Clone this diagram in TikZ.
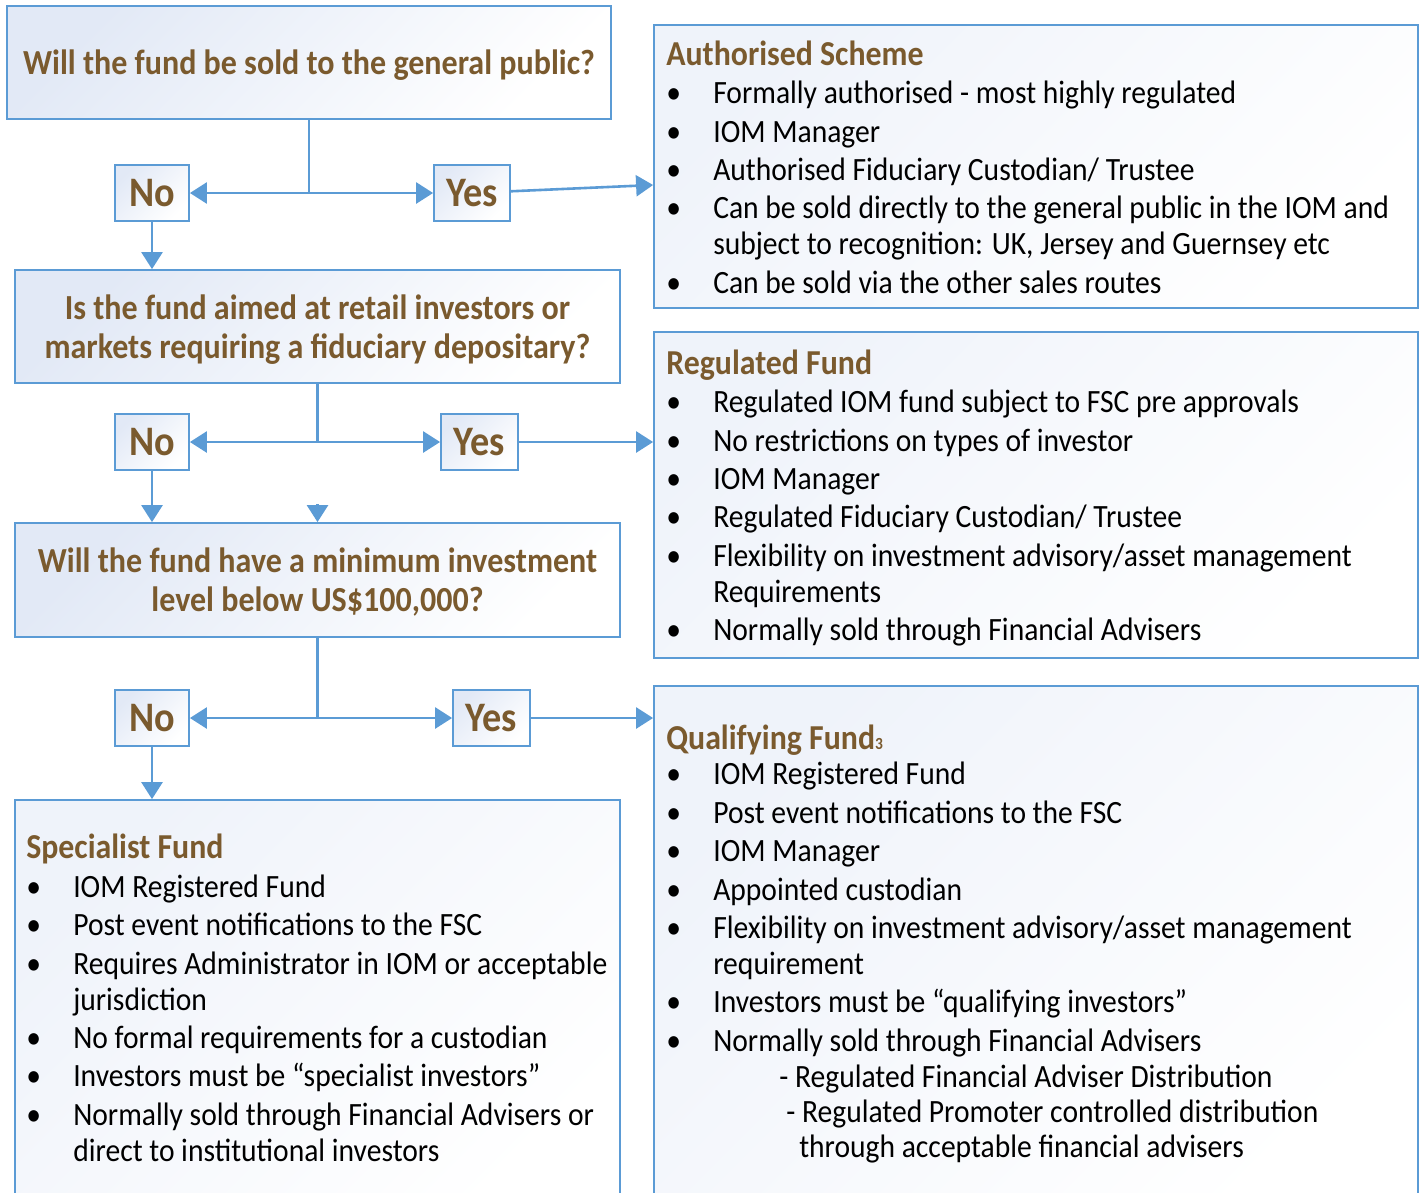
\documentclass[tikz,border=0pt]{standalone}
\usepackage{fontspec}
\setmainfont{Carlito}[FakeStretch=0.91]
\usetikzlibrary{calc,positioning,arrows.meta}
\definecolor{flowblue}{HTML}{5B9BD5}
\definecolor{titlebrown}{HTML}{7A5A2E}
\definecolor{boxtint}{HTML}{E2E9F6}
\newcommand{\itm}{\makebox[47pt][l]{\textbullet}}
\newcommand{\cont}{\hspace*{47pt}}
\newcommand{\headline}[1]{{\fontsize{35}{38}\selectfont\bfseries\color{titlebrown}#1}}
\tikzset{
  qbox/.style={draw=flowblue, line width=1.8pt, top color=boxtint, bottom color=white,
               shading angle=45, align=center, inner sep=0pt, text depth=0pt,
               font=\fontsize{35.2}{39}\selectfont\bfseries, text=titlebrown},
  ansbox/.style={qbox, minimum height=56pt, font=\fontsize{42}{45}\selectfont\bfseries},
  panel/.style={draw=flowblue, line width=1.8pt, top color=boxtint!55, bottom color=white,
                shading angle=45, inner sep=0pt},
  listtext/.style={anchor=north west, align=left, inner sep=0pt,
                   font=\fontsize{32.5}{38.4}\selectfont},
  flow/.style={draw=flowblue, line width=2.6pt},
  flowarrow/.style={flow, -{Triangle[length=17pt, width=21pt]}}
}
\begin{document}
\begin{tikzpicture}[x=1pt, y=-1pt]
  \useasboundingbox (0,0) rectangle (1424,1192);
  \node[qbox, minimum width=604pt, minimum height=113pt] (q1) at (309,62.5)
    {Will the fund be sold to the general public?};
  \node[qbox, minimum width=605pt, minimum height=113pt] (q2) at (317.5,326.5)
    {Is the fund aimed at retail investors or\\markets requiring a fiduciary depositary?};
  \node[qbox, minimum width=605pt, minimum height=114pt] (q3) at (317.5,580)
    {Will the fund have a minimum investment\\level below US\$100,000?};
  \node[ansbox, minimum width=74pt] (no1) at (152,193) {No};
  \node[ansbox, minimum width=76pt] (yes1) at (472,193) {Yes};
  \node[ansbox, minimum width=74pt] (no2) at (152,442) {No};
  \node[ansbox, minimum width=77pt] (yes2) at (479.5,442) {Yes};
  \node[ansbox, minimum width=74pt] (no3) at (152,718) {No};
  \node[ansbox, minimum width=77pt] (yes3) at (491.5,718) {Yes};

  \node[panel, minimum width=764pt, minimum height=283pt] (auth) at (1036,166.5) {};
  \node[panel, minimum width=764pt, minimum height=326pt] (reg) at (1036,495) {};
  \node[panel, minimum width=764pt, minimum height=530pt] (qual) at (1036,951) {};
  \node[panel, minimum width=605pt, minimum height=416pt] (spec) at (317.5,1008) {};

  \node[listtext] (authlist) at ([xshift=13pt, yshift=-16.5pt]auth.north west) {%
    \headline{Authorised Scheme}\\
    \itm Formally authorised - most highly regulated\\
    \itm IOM Manager\\
    \itm Authorised Fiduciary Custodian/ Trustee\\
    \itm Can be sold directly to the general public in the IOM and\\[-2.4pt]
    \cont subject to recognition: UK, Jersey and Guernsey etc\\
    \itm Can be sold via the other sales routes};
  \node[listtext] (reglist) at ([xshift=13pt, yshift=-18.5pt]reg.north west) {%
    \headline{Regulated Fund}\\
    \itm Regulated IOM fund subject to FSC pre approvals\\
    \itm No restrictions on types of investor\\
    \itm IOM Manager\\
    \itm Regulated Fiduciary Custodian/ Trustee\\
    \itm Flexibility on investment advisory/asset management\\[-2.4pt]
    \cont Requirements\\
    \itm Normally sold through Financial Advisers};
  \node[listtext] (quallist) at ([xshift=13pt, yshift=-40pt]qual.north west) {%
    \headline{Qualifying Fund{\fontsize{17}{17}\selectfont 3}}\\[-3.4pt]
    \itm IOM Registered Fund\\
    \itm Post event notifications to the FSC\\
    \itm IOM Manager\\
    \itm Appointed custodian\\
    \itm Flexibility on investment advisory/asset management\\[-2.4pt]
    \cont requirement\\
    \itm Investors must be “qualifying investors”\\
    \itm Normally sold through Financial Advisers\\[-2.4pt]
    \hspace*{113pt}- Regulated Financial Adviser Distribution\\[-3.4pt]
    \hspace*{120pt}- Regulated Promoter controlled distribution\\[-3.4pt]
    \hspace*{133pt}through acceptable financial advisers};
  \node[listtext] (speclist) at ([xshift=12pt, yshift=-35pt]spec.north west) {%
    \headline{Specialist Fund}\\
    \itm IOM Registered Fund\\
    \itm Post event notifications to the FSC\\
    \itm Requires Administrator in IOM or acceptable\\[-2.4pt]
    \cont jurisdiction\\
    \itm No formal requirements for a custodian\\
    \itm Investors must be “specialist investors”\\
    \itm Normally sold through Financial Advisers or\\[-2.4pt]
    \cont direct to institutional investors};

  \coordinate (j1) at (q1.south |- no1);
  \coordinate (j2) at (q2.south |- no2);
  \coordinate (j3) at (q3.south |- no3);
  \coordinate (stub) at ([yshift=18pt]q3.north);
  \draw[flow] (q1.south) -- (j1);
  \draw[flowarrow] (j1) -- (no1);
  \draw[flowarrow] (j1) -- (yes1);
  \draw[flowarrow] (yes1) -- ([yshift=-18.5pt]auth.west);
  \draw[flowarrow] (no1) -- (no1 |- q2.north);
  \draw[flow] (q2.south) -- (j2);
  \draw[flowarrow] (j2) -- (no2);
  \draw[flowarrow] (j2) -- (yes2);
  \draw[flowarrow] (yes2) -- (yes2 -| reg.west);
  \draw[flowarrow] (no2) -- (no2 |- q3.north);
  \draw[flowarrow] (stub) -- (q3.north);
  \draw[flow] (q3.south) -- (j3);
  \draw[flowarrow] (j3) -- (no3);
  \draw[flowarrow] (j3) -- (yes3);
  \draw[flowarrow] (yes3) -- (yes3 -| qual.west);
  \draw[flowarrow] (no3) -- (no3 |- spec.north);
\end{tikzpicture}
\end{document}
